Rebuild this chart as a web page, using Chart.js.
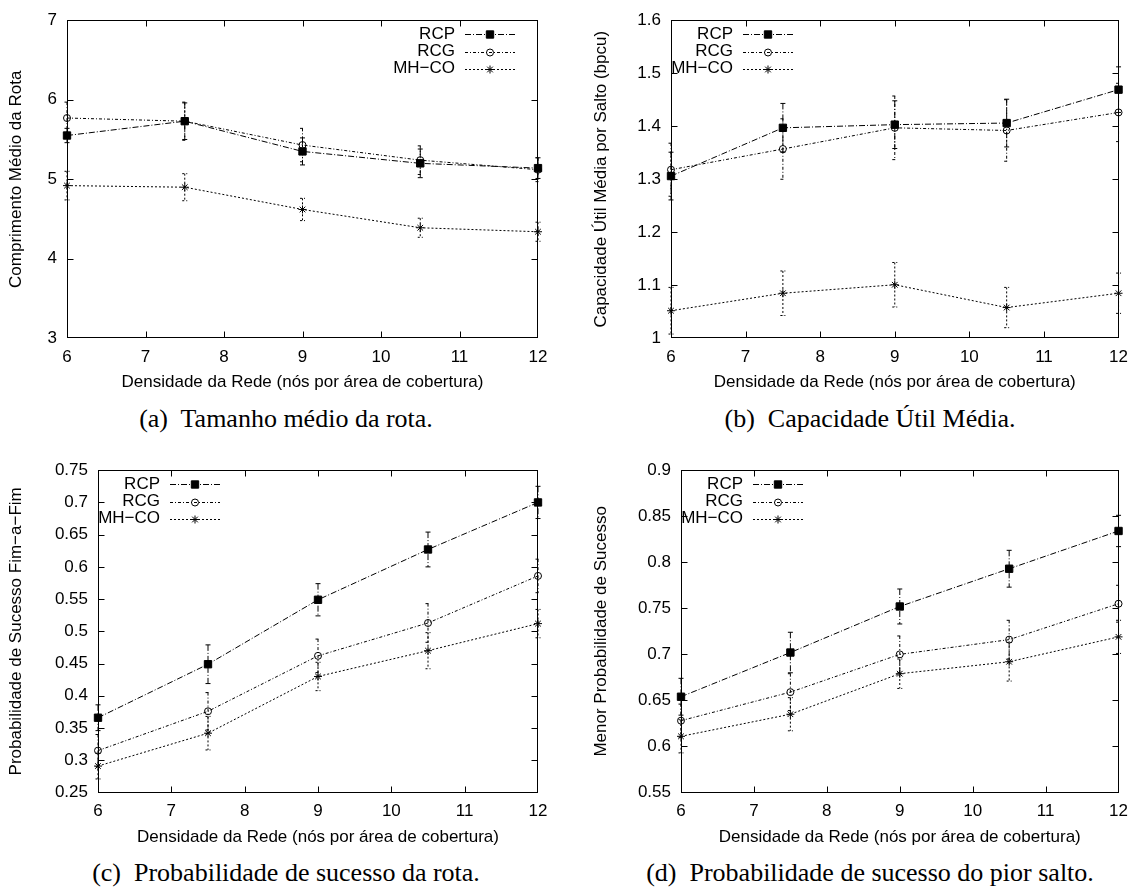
<!DOCTYPE html>
<html>
<head>
<meta charset="utf-8">
<title>Densidade da Rede</title>
<script src="https://cdn.jsdelivr.net/npm/chart.js"></script>
<style>
  body { margin: 0; background: #fff; }
  #page { position: relative; width: 1137px; height: 888px; overflow: hidden; }
  canvas { position: absolute; }
  .caption {
    position: absolute;
    font-family: "Liberation Serif", "Times New Roman", serif;
    font-size: 26px;
    line-height: 1;
    color: #000;
    text-align: center;
    white-space: pre;
  }
</style>
</head>
<body>
<div id="page">
  <canvas id="chartA" width="568" height="395" style="left:0;top:0"></canvas>
  <canvas id="chartB" width="569" height="395" style="left:568px;top:0"></canvas>
  <canvas id="chartC" width="568" height="400" style="left:0;top:450px"></canvas>
  <canvas id="chartD" width="569" height="400" style="left:568px;top:450px"></canvas>

  <div class="caption" style="left:0;width:572px;top:406px">(a)  Tamanho médio da rota.</div>
  <div class="caption" style="left:600px;width:540px;top:406px">(b)  Capacidade Útil Média.</div>
  <div class="caption" style="left:0;width:572px;top:860px">(c)  Probabilidade de sucesso da rota.</div>
  <div class="caption" style="left:600px;width:540px;top:860px">(d)  Probabilidade de sucesso do pior salto.</div>
</div>

<script>
// ---------------------------
// Data
// ---------------------------
const densidade = [6, 7.5, 9, 10.5, 12];
const seriesNames = ['RCP', 'RCG', 'MH\u2212CO'];

// (a) comprimento medio da rota
const rotaRCP = [5.55, 5.73, 5.35, 5.20, 5.14];
const rotaRCG = [5.77, 5.73, 5.43, 5.24, 5.12];
const rotaMH = [4.92, 4.90, 4.62, 4.39, 4.34];
const rotaRCPErr = [0.09, 0.23, 0.17, 0.18, 0.13];
const rotaRCGErr = [0.20, 0.24, 0.21, 0.18, 0.15];
const rotaMHErr = [0.18, 0.17, 0.14, 0.12, 0.12];

// (b) capacidade util media por salto
const capRCP = [1.306, 1.397, 1.403, 1.406, 1.469];
const capRCG = [1.318, 1.357, 1.397, 1.392, 1.426];
const capMH = [1.052, 1.085, 1.101, 1.058, 1.085];
const capRCPErr = [0.045, 0.046, 0.045, 0.045, 0.043];
const capRCGErr = [0.050, 0.057, 0.060, 0.058, 0.055];
const capMHErr = [0.044, 0.042, 0.042, 0.038, 0.038];

// (c) probabilidade de sucesso fim-a-fim
const e2eRCP = [0.366, 0.449, 0.549, 0.627, 0.700];
const e2eRCG = [0.315, 0.376, 0.462, 0.513, 0.586];
const e2eMH = [0.291, 0.342, 0.430, 0.470, 0.512];
const e2eRCPErr = [0.020, 0.030, 0.025, 0.027, 0.025];
const e2eRCGErr = [0.025, 0.029, 0.026, 0.030, 0.026];
const e2eMHErr = [0.020, 0.026, 0.022, 0.028, 0.022];

// (d) menor probabilidade de sucesso (pior salto)
const hopRCP = [0.654, 0.702, 0.752, 0.793, 0.834];
const hopRCG = [0.628, 0.659, 0.700, 0.716, 0.755];
const hopMH = [0.611, 0.635, 0.679, 0.692, 0.719];
const hopRCPErr = [0.020, 0.022, 0.019, 0.020, 0.017];
const hopRCGErr = [0.018, 0.020, 0.020, 0.021, 0.020];
const hopMHErr = [0.018, 0.018, 0.016, 0.021, 0.018];

const xTitle = 'Densidade da Rede (nós por área de cobertura)';

// gnuplot-like line/point styles
const seriesStyles = [
  { pointStyle: 'rect', radius: 5.2, fill: '#000', dash: [6, 2, 1, 2] },
  { pointStyle: 'circle', radius: 3.5, fill: 'rgba(0,0,0,0)', dash: [3, 2, 1, 2] },
  { pointStyle: 'star', radius: 4, fill: '#000', dash: [2, 2] }
];

const FONT = '"Liberation Sans", Arial, Helvetica, sans-serif';
Chart.defaults.font.family = FONT;
Chart.defaults.font.size = 17;
Chart.defaults.color = '#000';

// ---------------------------
// Marker helper (used for the key)
// ---------------------------
function drawMarker(ctx, style, x, y) {
  ctx.save();
  ctx.setLineDash([]);
  ctx.fillStyle = style.fill;
  ctx.strokeStyle = '#000';
  ctx.lineWidth = 1;
  if (Chart.helpers && Chart.helpers.drawPoint) {
    Chart.helpers.drawPoint(ctx, { pointStyle: style.pointStyle, radius: style.radius, rotation: 0, borderWidth: 1 }, x, y);
  }
  ctx.restore();
}

// ---------------------------
// Plugin: error bars, frame, inner ticks, key
// ---------------------------
const gnuplotLook = {
  id: 'gnuplotLook',
  beforeDatasetsDraw(chart, args, opts) {
    const { ctx } = chart;
    const xs = chart.scales.x, ys = chart.scales.y;
    ctx.save();
    ctx.strokeStyle = '#000';
    ctx.lineWidth = 1;
    opts.errors.forEach((errs, i) => {
      const vals = opts.values[i];
      ctx.setLineDash(seriesStyles[i].dash);
      densidade.forEach((d, j) => {
        const px = xs.getPixelForValue(d);
        const top = ys.getPixelForValue(vals[j] + errs[j]);
        const bot = ys.getPixelForValue(vals[j] - errs[j]);
        ctx.beginPath();
        ctx.moveTo(px, top);
        ctx.lineTo(px, bot);
        ctx.moveTo(px - 2.5, top);
        ctx.lineTo(px + 2.5, top);
        ctx.moveTo(px - 2.5, bot);
        ctx.lineTo(px + 2.5, bot);
        ctx.stroke();
      });
    });
    ctx.restore();
  },
  afterDatasetsDraw(chart, args, opts) {
    const { ctx, chartArea: a } = chart;
    const xs = chart.scales.x, ys = chart.scales.y;
    const L = Math.round(a.left) + 0.5, R = Math.round(a.right) - 0.5;
    const T = Math.round(a.top) + 0.5, B = Math.round(a.bottom) - 0.5;
    ctx.save();
    ctx.strokeStyle = '#000';
    ctx.lineWidth = 1;
    ctx.setLineDash([]);

    // frame
    ctx.strokeRect(L, T, R - L, B - T);

    // inward ticks, mirrored
    const tl = 6;
    ctx.beginPath();
    xs.ticks.forEach(t => {
      if (t.value <= xs.min || t.value >= xs.max) return;
      const px = Math.round(xs.getPixelForValue(t.value)) + 0.5;
      ctx.moveTo(px, B); ctx.lineTo(px, B - tl);
      ctx.moveTo(px, T); ctx.lineTo(px, T + tl);
    });
    ys.ticks.forEach(t => {
      if (t.value <= ys.min + 1e-9 || t.value >= ys.max - 1e-9) return;
      const py = Math.round(ys.getPixelForValue(t.value)) + 0.5;
      ctx.moveTo(L, py); ctx.lineTo(L + tl, py);
      ctx.moveTo(R, py); ctx.lineTo(R - tl, py);
    });
    ctx.stroke();

    // key
    ctx.font = '17px ' + FONT;
    ctx.fillStyle = '#000';
    ctx.textAlign = 'right';
    ctx.textBaseline = 'middle';
    const base = opts.keyRight ? a.right - 145 : a.left;
    seriesNames.forEach((name, i) => {
      const y = a.top + 14 + i * 17.3;
      ctx.fillText(name, base + 62, y);
      ctx.setLineDash(seriesStyles[i].dash);
      ctx.beginPath();
      ctx.moveTo(base + 72, Math.round(y) + 0.5);
      ctx.lineTo(base + 122, Math.round(y) + 0.5);
      ctx.stroke();
      drawMarker(ctx, seriesStyles[i], base + 97, Math.round(y) + 0.5);
    });
    ctx.restore();
  }
};

// ---------------------------
// Build one panel
// ---------------------------
function makeChart(canvasId, cfg) {
  const ctx = document.getElementById(canvasId).getContext('2d');
  return new Chart(ctx, {
    type: 'line',
    data: {
      datasets: cfg.series.map((vals, i) => ({
        label: seriesNames[i],
        data: densidade.map((x, j) => ({ x, y: vals[j] })),
        borderColor: '#000',
        borderWidth: 1,
        borderDash: seriesStyles[i].dash,
        pointStyle: seriesStyles[i].pointStyle,
        pointRadius: seriesStyles[i].radius,
        pointBackgroundColor: seriesStyles[i].fill,
        pointBorderColor: '#000',
        pointBorderWidth: 1,
        tension: 0,
        fill: false,
        clip: false
      }))
    },
    options: {
      responsive: false,
      animation: false,
      events: [],
      layout: { padding: cfg.padding },
      plugins: {
        legend: { display: false },
        tooltip: { enabled: false },
        gnuplotLook: { values: cfg.series, errors: cfg.errors, keyRight: cfg.keyRight }
      },
      scales: {
        x: {
          type: 'linear',
          min: 6,
          max: 12,
          ticks: { stepSize: 1, padding: 9, color: '#000' },
          grid: { display: false, drawTicks: false },
          border: { display: false },
          title: { display: true, text: xTitle, color: '#000', padding: { top: 0, bottom: 2 } },
          afterFit: s => { s.height = cfg.xHeight; }
        },
        y: {
          type: 'linear',
          min: cfg.yMin,
          max: cfg.yMax,
          ticks: {
            stepSize: cfg.yStep,
            padding: 10,
            color: '#000',
            callback: v => String(Number(v.toFixed(2)))
          },
          grid: { display: false, drawTicks: false },
          border: { display: false },
          title: { display: true, text: cfg.yTitle, color: '#000', padding: { top: cfg.yTitlePad, bottom: 0 } },
          afterFit: s => { s.width = cfg.yWidth; }
        }
      }
    },
    plugins: [gnuplotLook]
  });
}

// ---------------------------
// Panels
// ---------------------------
makeChart('chartA', {
  series: [rotaRCP, rotaRCG, rotaMH],
  errors: [rotaRCPErr, rotaRCGErr, rotaMHErr],
  yMin: 3, yMax: 7, yStep: 1,
  yTitle: 'Comprimento Médio da Rota',
  padding: { left: 0, top: 14, right: 30, bottom: 0 },
  yWidth: 67, xHeight: 56.7, yTitlePad: 6, keyRight: true
});

makeChart('chartB', {
  series: [capRCP, capRCG, capMH],
  errors: [capRCPErr, capRCGErr, capMHErr],
  yMin: 1, yMax: 1.6, yStep: 0.1,
  yTitle: 'Capacidade Útil Média por Salto (bpcu)',
  padding: { left: 0, top: 14, right: 16, bottom: 0 },
  yWidth: 103, xHeight: 56.7, yTitlePad: 23.5, keyRight: false
});

makeChart('chartC', {
  series: [e2eRCP, e2eRCG, e2eMH],
  errors: [e2eRCPErr, e2eRCGErr, e2eMHErr],
  yMin: 0.25, yMax: 0.75, yStep: 0.05,
  yTitle: 'Probabilidade de Sucesso Fim\u2212a\u2212Fim',
  padding: { left: 0, top: 19.3, right: 30, bottom: 0 },
  yWidth: 98, xHeight: 57.5, yTitlePad: 6, keyRight: false
});

makeChart('chartD', {
  series: [hopRCP, hopRCG, hopMH],
  errors: [hopRCPErr, hopRCGErr, hopMHErr],
  yMin: 0.55, yMax: 0.9, yStep: 0.05,
  yTitle: 'Menor Probabilidade de Sucesso',
  padding: { left: 0, top: 19.3, right: 16, bottom: 0 },
  yWidth: 113, xHeight: 57.5, yTitlePad: 23.5, keyRight: false
});
</script>
</body>
</html>
